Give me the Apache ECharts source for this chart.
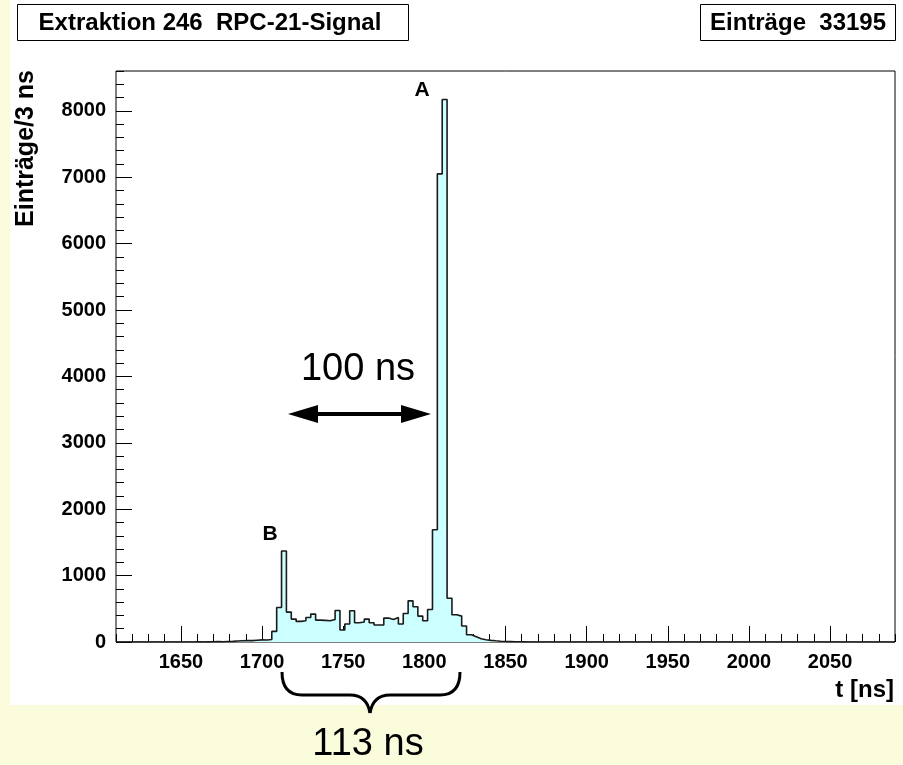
<!DOCTYPE html>
<html><head><meta charset="utf-8">
<script src="https://cdn.jsdelivr.net/npm/echarts@6/dist/echarts.min.js"></script>
<style>html,body{margin:0;padding:0;background:#fafcdc;} #c{width:903px;height:765px;}</style>
</head><body><div id="c"></div>
<script>
// ---- data ----
const binStart = 1610;      // ns, lower edge of first bin
const binWidth = 3;         // ns
const counts = [
  0,0,0,0,0,0,0,0,0,0,0,0,0,0,0,0,
  2,0,2,3,5,4,8,10,14,18,22,20,26,32,30,38,
  160,520,1370,450,345,310,320,370,420,330,325,320,340,475,
  180,270,470,290,300,345,290,255,255,360,340,370,270,430,620,530,390,320,490,
  1690,7050,8170,660,410,390,240,110,80,50,35,25,18,12,8,6,4,3,2,
  1,1,0,1,0,0,1,0,0,0,1,0,0,0,0,1,0,0,0,0,
  0,0,0,0,0,0,0,0,0,0,0,0,0,0,0,0,0,0,0,0,
  0,0,0,0,0,0,0,0,0,0,0,0,0,0,0,0,0,0,0,0,
  0,0,0,0,0,0,0,0,0,0,0,0,0,0,0,0
];
const xTickLabels = ['1650','1700','1750','1800','1850','1900','1950','2000','2050'];
const yTickLabels = ['0','1000','2000','3000','4000','5000','6000','7000','8000'];
const xMin = 1610, xMax = 2090, xMinorStep = 10;
const yMin = 0, yMax = 8600, yMinorStep = 200;
const titleText = 'Extraktion 246  RPC-21-Signal';
const statsText = 'Einträge  33195';
const yTitle = 'Einträge/3 ns';
const xTitle = 't [ns]';

// ---- build ----
const histData = counts.map((c, i) => [binStart + i * binWidth, c]);
histData.push([binStart + counts.length * binWidth, counts[counts.length - 1]]);
const xCats = []; for (let v = xMin; v <= xMax; v += xMinorStep) xCats.push(String(v));
const yCats = []; for (let v = yMin; v <= yMax; v += yMinorStep) yCats.push(String(v));
const xMajor = new Set(xTickLabels), yMajor = new Set(yTickLabels);

const FONT = "'Liberation Sans', Arial, Helvetica, sans-serif";
const lblStyle = {color:'#000', fontSize:20, fontWeight:'bold', fontFamily:FONT};
const tickLine = {color:'#000', width:1};
const ink = {stroke:'#000', lineWidth:3, fill:null};

const chart = echarts.init(document.getElementById('c'), null, {renderer:'canvas'});
chart.setOption({
  animation:false,
  backgroundColor:'transparent',
  grid:{left:116, right:8, top:71, bottom:123, show:true, backgroundColor:'#fff', borderColor:'#000', borderWidth:1},
  xAxis:[
    {type:'value', min:xMin, max:xMax, interval:xMinorStep, position:'bottom',
     axisLine:{show:false}, axisTick:{show:true, inside:true, length:8, lineStyle:tickLine},
     axisLabel:{show:false}, splitLine:{show:false}},
    {type:'category', data:xCats, boundaryGap:false, position:'bottom',
     axisLine:{show:false},
     axisTick:{show:true, inside:true, length:16, lineStyle:tickLine, interval:(i, v) => xMajor.has(v)},
     axisLabel:Object.assign({show:true, margin:10, interval:(i, v) => xMajor.has(v)}, lblStyle),
     splitLine:{show:false}}
  ],
  yAxis:[
    {type:'value', min:yMin, max:yMax, interval:yMinorStep, position:'left',
     axisLine:{show:false}, axisTick:{show:true, inside:true, length:8, lineStyle:tickLine},
     axisLabel:{show:false}, splitLine:{show:false}},
    {type:'category', data:yCats, boundaryGap:false, position:'left',
     axisLine:{show:false},
     axisTick:{show:true, inside:true, length:16, lineStyle:tickLine, interval:(i, v) => yMajor.has(v)},
     axisLabel:Object.assign({show:true, margin:10, interval:(i, v) => yMajor.has(v)}, lblStyle),
     splitLine:{show:false}}
  ],
  series:[{
    type:'line', xAxisIndex:0, yAxisIndex:0, data:histData, step:'end',
    symbol:'none', lineStyle:{color:'#1a1a1a', width:1.6},
    areaStyle:{color:'#ccffff', opacity:1}, z:2
  }],
  graphic:[
    {type:'rect', z:-10, silent:true, shape:{x:10, y:0, width:893, height:705}, style:{fill:'#fff'}},
    {type:'rect', z:10, shape:{x:17.5, y:4.5, width:391, height:36}, style:{fill:'#fff', stroke:'#000', lineWidth:1}},
    {type:'text', z:11, x:210, y:23, style:{text:titleText, fill:'#000', fontSize:24, fontWeight:'bold', fontFamily:FONT, align:'center', verticalAlign:'middle'}},
    {type:'rect', z:10, shape:{x:700.5, y:4.5, width:195, height:36}, style:{fill:'#fff', stroke:'#000', lineWidth:1}},
    {type:'text', z:11, x:798, y:23, style:{text:statsText, fill:'#000', fontSize:24, fontWeight:'bold', fontFamily:FONT, align:'center', verticalAlign:'middle'}},
    {type:'text', z:11, x:26, y:70, rotation:Math.PI/2, style:{text:yTitle, fill:'#000', fontSize:25, fontWeight:'bold', fontFamily:FONT, align:'right', verticalAlign:'middle'}},
    {type:'text', z:11, x:894, y:690, style:{text:xTitle, fill:'#000', fontSize:24, fontWeight:'bold', fontFamily:FONT, align:'right', verticalAlign:'middle'}},
    {type:'text', z:11, x:422, y:90, style:{text:'A', fill:'#000', fontSize:21, fontWeight:'bold', fontFamily:FONT, align:'center', verticalAlign:'middle'}},
    {type:'text', z:11, x:270, y:534, style:{text:'B', fill:'#000', fontSize:21, fontWeight:'bold', fontFamily:FONT, align:'center', verticalAlign:'middle'}},
    {type:'text', z:11, x:358, y:370, style:{text:'100 ns', fill:'#000', fontSize:38, fontFamily:FONT, align:'center', verticalAlign:'middle'}},
    {type:'line', z:11, shape:{x1:310, y1:414, x2:410, y2:414}, style:{stroke:'#000', lineWidth:4}},
    {type:'polygon', z:11, shape:{points:[[288,414],[318,405],[318,423]]}, style:{fill:'#000'}},
    {type:'polygon', z:11, shape:{points:[[431,414],[401,405],[401,423]]}, style:{fill:'#000'}},
    {type:'bezierCurve', z:11, shape:{x1:282, y1:672, cpx1:282, cpy1:695, x2:302, y2:695}, style:ink},
    {type:'line', z:11, shape:{x1:302, y1:695, x2:350, y2:695}, style:ink},
    {type:'bezierCurve', z:11, shape:{x1:350, y1:695, cpx1:367, cpy1:695, x2:370, y2:713}, style:ink},
    {type:'bezierCurve', z:11, shape:{x1:390, y1:695, cpx1:373, cpy1:695, x2:370, y2:713}, style:ink},
    {type:'line', z:11, shape:{x1:390, y1:695, x2:440, y2:695}, style:ink},
    {type:'bezierCurve', z:11, shape:{x1:460, y1:672, cpx1:460, cpy1:695, x2:440, y2:695}, style:ink},
    {type:'text', z:11, x:368, y:745, style:{text:'113 ns', fill:'#000', fontSize:38, fontFamily:FONT, align:'center', verticalAlign:'middle'}}
  ]
});
</script></body></html>
